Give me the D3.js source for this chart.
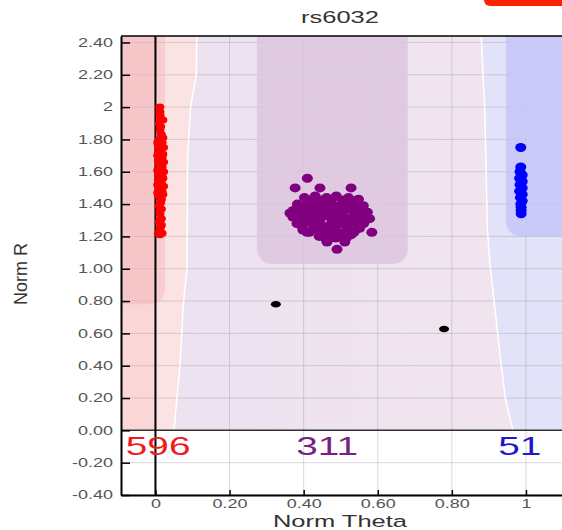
<!DOCTYPE html>
<html>
<head>
<meta charset="utf-8">
<script src="https://cdn.jsdelivr.net/npm/d3@7"></script>
<style>
  body { margin: 0; background: #fff; }
  text { font-family: "Liberation Sans", Arial, sans-serif; }
</style>
</head>
<body>
<div id="body"></div>
<script>
// cluster plot for rs6032 (norm theta vs norm R)

let xTicks = [0, 0.2, 0.4, 0.6, 0.8, 1];
let xTickLabels = ["0", "0.20", "0.40", "0.60", "0.80", "1"];
let yTicks = [-0.4, -0.2, 0, 0.2, 0.4, 0.6, 0.8, 1, 1.2, 1.4, 1.6, 1.8, 2, 2.2, 2.4];
let yTickLabels = ["-0.40", "-0.20", "0.00", "0.20", "0.40", "0.60", "0.80", "1.00",
  "1.20", "1.40", "1.60", "1.80", "2", "2.20", "2.40"];

// genotype counts shown under the zero line
let counts = [596, 311, 51];
let countTheta = [-0.08, 0.38, 0.925];

// cluster boxes [thetaMin, thetaMax, rMin]
let boxAA = [-0.2, 0.026, 0.78];
let boxAB = [0.274, 0.681, 1.03];
let boxBB = [0.946, 1.3, 1.2];

// call-region boundaries [theta, r]
let leftBoundary = [[0.05, 0], [0.058, 0.2], [0.066, 0.4], [0.076, 0.8], [0.085, 1.0],
  [0.087, 1.7], [0.095, 2.0], [0.110, 2.2], [0.112, 2.5]];
let rightBoundary = [[0.965, 0], [0.945, 0.19], [0.932, 0.43], [0.914, 0.8], [0.903, 1.03],
  [0.896, 1.24], [0.889, 1.98], [0.878, 2.5]];

// samples [theta, r]
let aaPoints = [[0.012, 2.00], [0.012, 1.97], [0.014, 1.93], [0.020, 1.92], [0.010, 1.90],
  [0.012, 1.86], [0.016, 1.83], [0.010, 1.80], [0.018, 1.78], [0.008, 1.76], [0.022, 1.75],
  [0.012, 1.73], [0.020, 1.71], [0.006, 1.70], [0.016, 1.68], [0.022, 1.66], [0.010, 1.65],
  [0.018, 1.63], [0.006, 1.61], [0.022, 1.60], [0.012, 1.58], [0.020, 1.56], [0.008, 1.55],
  [0.016, 1.53], [0.022, 1.51], [0.010, 1.50], [0.018, 1.48], [0.006, 1.47], [0.020, 1.46],
  [0.012, 1.44], [0.014, 1.41], [0.010, 1.39], [0.016, 1.37], [0.012, 1.34], [0.016, 1.31],
  [0.010, 1.29], [0.016, 1.27], [0.012, 1.24], [0.008, 1.22], [0.018, 1.22], [0.012, 1.21],
  [0.006, 1.78], [0.020, 1.81], [0.008, 1.72], [0.018, 1.69], [0.008, 1.67], [0.014, 1.62],
  [0.008, 1.59], [0.018, 1.57], [0.014, 1.54], [0.006, 1.52], [0.014, 1.49], [0.008, 1.45],
  [0.016, 1.43], [0.012, 1.36], [0.012, 1.30], [0.014, 1.26], [0.014, 1.88], [0.012, 1.95]];

let abPoints = [[0.402, 1.44], [0.431, 1.45], [0.462, 1.44], [0.488, 1.45], [0.521, 1.44], [0.548, 1.43],
  [0.383, 1.40], [0.412, 1.41], [0.441, 1.40], [0.47, 1.41], [0.502, 1.40], [0.531, 1.41], [0.561, 1.39],
  [0.372, 1.36], [0.401, 1.37], [0.43, 1.36], [0.459, 1.37], [0.49, 1.36], [0.519, 1.37], [0.548, 1.36], [0.572, 1.35],
  [0.371, 1.32], [0.398, 1.33], [0.428, 1.32], [0.461, 1.33], [0.492, 1.32], [0.522, 1.31], [0.551, 1.32], [0.578, 1.31],
  [0.382, 1.28], [0.412, 1.29], [0.44, 1.28], [0.471, 1.27], [0.5, 1.28], [0.532, 1.29], [0.562, 1.28],
  [0.398, 1.24], [0.428, 1.25], [0.461, 1.24], [0.49, 1.23], [0.521, 1.24], [0.551, 1.25],
  [0.442, 1.20], [0.471, 1.21], [0.5, 1.20], [0.528, 1.21],
  [0.416, 1.425], [0.446, 1.425], [0.476, 1.43], [0.505, 1.425], [0.535, 1.42],
  [0.396, 1.385], [0.426, 1.385], [0.456, 1.39], [0.486, 1.385], [0.516, 1.39], [0.546, 1.385],
  [0.386, 1.345], [0.416, 1.35], [0.446, 1.345], [0.476, 1.35], [0.506, 1.345], [0.536, 1.345], [0.564, 1.34],
  [0.386, 1.30], [0.414, 1.305], [0.444, 1.30], [0.476, 1.305], [0.507, 1.30], [0.537, 1.30], [0.566, 1.30],
  [0.396, 1.26], [0.426, 1.265], [0.456, 1.26], [0.486, 1.255], [0.516, 1.26], [0.546, 1.265],
  [0.416, 1.225], [0.446, 1.225], [0.476, 1.225], [0.506, 1.22], [0.536, 1.225],
  [0.486, 1.19], [0.458, 1.19], [0.515, 1.19],
  [0.41, 1.56], [0.377, 1.50], [0.444, 1.50], [0.528, 1.50], [0.363, 1.345], [0.584, 1.225],
  [0.49, 1.12], [0.409, 1.225], [0.463, 1.165], [0.511, 1.165]];

let bbPoints = [[0.986, 1.75], [0.986, 1.63], [0.984, 1.60], [0.99, 1.58], [0.983, 1.56],
  [0.99, 1.54], [0.984, 1.52], [0.99, 1.50], [0.983, 1.48], [0.99, 1.46], [0.985, 1.44],
  [0.99, 1.42], [0.986, 1.40], [0.987, 1.38], [0.987, 1.36], [0.987, 1.34]];

let noCalls = [[0.325, 0.78], [0.779, 0.627]];

let width = 562,
  height = 530;
let stretch = 1.5;

let svg = d3.select("#body").append("svg")
  .attr("width", width)
  .attr("height", height);

let x = d3.scaleLinear().domain([-0.093, 1.1]).range([121, 563]);
let y = d3.scaleLinear().domain([-0.4, 2.44]).range([495, 36]);

let plotL = x.range()[0], plotR = x.range()[1];
let plotT = y.range()[1], plotB = y.range()[0];

svg.append("clipPath").attr("id", "plot")
  .append("rect")
  .attr("x", plotL).attr("y", plotT)
  .attr("width", plotR - plotL).attr("height", plotB - plotT);

// red tab in the corner
svg.append("rect")
  .attr("x", 484).attr("y", -12)
  .attr("width", 100).attr("height", 18)
  .attr("rx", 6)
  .style("fill", "#ff2200");

let defs = svg.append("defs");
let grad = defs.append("linearGradient").attr("id", "mid")
  .attr("x1", "0%").attr("x2", "100%");
grad.append("stop").attr("offset", "0%").attr("stop-color", "#ebe1f0");
grad.append("stop").attr("offset", "100%").attr("stop-color", "#f2e5ee");

let g = svg.append("g").attr("clip-path", "url(#plot)");

// background call regions (only above r = 0)
g.append("rect")
  .attr("x", plotL).attr("y", plotT)
  .attr("width", plotR - plotL).attr("height", y(0) - plotT)
  .style("fill", "url(#mid)");

let leftArea = d3.area()
  .y((d) => y(d[1]))
  .x0(plotL)
  .x1((d) => x(d[0]));
let rightArea = d3.area()
  .y((d) => y(d[1]))
  .x0((d) => x(d[0]))
  .x1(plotR + 5);
let edgeLine = d3.line()
  .y((d) => y(d[1]))
  .x((d) => x(d[0]));

g.append("path").attr("d", leftArea(leftBoundary)).style("fill", "#fce3e3");
g.append("path").attr("d", rightArea(rightBoundary)).style("fill", "#e2e2f8");
g.append("rect")
  .attr("x", plotL).attr("y", plotT)
  .attr("width", x(0) - plotL).attr("height", y(0) - plotT)
  .style("fill", "#fad6d7");

// grid
g.selectAll(".vgrid").data(xTicks).enter().append("line")
  .attr("class", "vgrid")
  .attr("x1", (d) => x(d)).attr("x2", (d) => x(d))
  .attr("y1", plotT).attr("y2", plotB)
  .style("stroke", "rgba(150,145,160,0.35)").style("stroke-width", 1);
g.selectAll(".hgrid").data(yTicks).enter().append("line")
  .attr("class", "hgrid")
  .attr("y1", (d) => y(d)).attr("y2", (d) => y(d))
  .attr("x1", plotL).attr("x2", plotR)
  .style("stroke", "rgba(150,145,160,0.35)").style("stroke-width", 1);

// white boundary curves
[leftBoundary, rightBoundary].forEach((b) => {
  g.append("path").attr("d", edgeLine(b))
    .style("fill", "none").style("stroke", "#fff").style("stroke-width", 1.5);
});

// cluster boxes
function box(b, color, op) {
  g.append("rect")
    .attr("x", x(b[0])).attr("y", plotT - 30)
    .attr("width", x(b[1]) - x(b[0]))
    .attr("height", y(b[2]) - plotT + 30)
    .attr("rx", 15)
    .style("fill", color)
    .style("opacity", op);
}
box(boxAA, "#f5b3b8", 0.45);
box(boxAB, "#dcc6de", 0.85);
box(boxBB, "#c6c6f8", 0.85);

// zero lines
g.append("line")
  .attr("x1", plotL).attr("x2", plotR)
  .attr("y1", y(0)).attr("y2", y(0))
  .style("stroke", "#333").style("stroke-width", 1.5);
g.append("line")
  .attr("x1", x(0)).attr("x2", x(0))
  .attr("y1", plotT).attr("y2", plotB)
  .style("stroke", "#000").style("stroke-width", 2);

// sample points
function dots(data, color, rx, ry) {
  g.append("g").selectAll("ellipse").data(data).enter().append("ellipse")
    .attr("cx", (d) => x(d[0]))
    .attr("cy", (d) => y(d[1]))
    .attr("rx", rx).attr("ry", ry)
    .style("fill", color);
}
dots(aaPoints, "#ff0000", 4.5, 3.5);
dots(abPoints, "#800080", 5.5, 4.5);
dots(bbPoints, "#0000ff", 5.5, 4.5);
dots(noCalls, "#000", 5, 3.2);

// counts
let countColors = ["#ee1c1c", "#7b1f86", "#1a1acc"];
counts.forEach((c, i) => {
  svg.append("text")
    .attr("transform", "translate(" + x(countTheta[i]) + "," + y(-0.15) + ") scale(1.55,1)")
    .style("font-size", "25px")
    .style("fill", countColors[i])
    .text(c);
});

// axes
let yAxis = d3.axisLeft(y)
  .tickValues(yTicks)
  .tickFormat((d, i) => yTickLabels[i])
  .tickSize(-9)
  .tickSizeOuter(0)
  .tickPadding(8);
let xAxis = d3.axisBottom(x)
  .tickValues(xTicks)
  .tickFormat((d, i) => xTickLabels[i])
  .tickSize(-5)
  .tickSizeOuter(0)
  .tickPadding(4);

let ya = svg.append("g").attr("transform", "translate(" + plotL + ",0)").call(yAxis);
let xa = svg.append("g").attr("transform", "translate(0," + plotB + ")").call(xAxis);

[ya, xa].forEach((a) => {
  a.select(".domain").style("stroke", "#000").style("stroke-width", 2);
  a.selectAll(".tick line").style("stroke", "#000").style("stroke-width", 1.5);
  a.selectAll("text")
    .style("font-size", "12px")
    .style("fill", "#555")
    .style("font-family", "Liberation Sans, Arial, sans-serif");
});
ya.selectAll("text").attr("x", -8 / stretch).attr("transform", "scale(" + stretch + ",1)");
xa.selectAll("text").attr("transform", "scale(" + stretch + ",1)");

// top border
svg.append("line")
  .attr("x1", plotL).attr("x2", plotR)
  .attr("y1", plotT).attr("y2", plotT)
  .style("stroke", "#000").style("stroke-width", 1.5);

// titles
svg.append("text")
  .attr("transform", "translate(340,23) scale(" + stretch + ",1)")
  .attr("text-anchor", "middle")
  .style("font-size", "17px")
  .style("fill", "#333")
  .text("rs6032");
svg.append("text")
  .attr("transform", "translate(340,527) scale(" + stretch + ",1)")
  .attr("text-anchor", "middle")
  .style("font-size", "17px")
  .style("fill", "#333")
  .text("Norm Theta");
svg.append("text")
  .attr("transform", "translate(27,274) rotate(-90)")
  .attr("text-anchor", "middle")
  .style("font-size", "18px")
  .style("font-family", "Liberation Sans Narrow, Liberation Sans, Arial, sans-serif")
  .style("fill", "#333")
  .text("Norm R");
</script>
</body>
</html>
